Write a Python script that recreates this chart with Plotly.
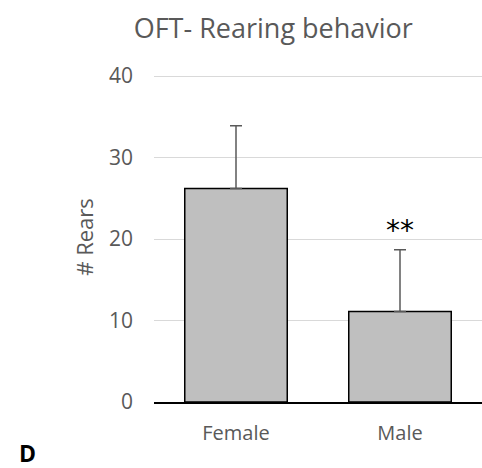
import plotly.graph_objects as go

categories = ["Female", "Male"]
means = [26.2, 11.1]
sem_plus = [7.7, 7.6]
sem_minus = [0, 0]
y_ticks = [0, 10, 20, 30, 40]
sig_labels = ["", "**"]

FONT = "Open Sans"
GRAY = "#595959"

fig = go.Figure()
fig.add_trace(go.Bar(
    x=categories, y=means,
    marker=dict(color="#bfbfbf", line=dict(color="black", width=1.5)),
    error_y=dict(type="data", symmetric=False, array=sem_plus, arrayminus=sem_minus,
                 color=GRAY, thickness=1.5, width=6),
    showlegend=False,
))

for cat, m, e, lab in zip(categories, means, sem_plus, sig_labels):
    if lab:
        fig.add_annotation(x=cat, y=m + e, text=lab, showarrow=False, yshift=19,
                           yanchor="middle",
                           font=dict(family="DejaVu Sans", size=28, color="black"))

fig.add_annotation(xref="paper", yref="paper", x=-0.418, y=-0.155, text="<b>D</b>",
                   showarrow=False, xanchor="left", yanchor="middle",
                   font=dict(family=FONT, size=23, color="black"))

fig.update_layout(
    width=482, height=468,
    margin=dict(l=154, r=0, t=72, b=66),
    plot_bgcolor="white", paper_bgcolor="white",
    bargap=0.375,
    title=dict(text="OFT- Rearing behavior", x=0.567, xanchor="center", y=0.94, yanchor="middle",
               font=dict(family=FONT, size=27, color=GRAY)),
    font=dict(family=FONT, color=GRAY),
)
fig.update_yaxes(range=[0, 40.5], tickvals=y_ticks, showgrid=True, gridcolor="#d9d9d9", gridwidth=1,
                 zeroline=False, showline=False, ticks="", ticklabelstandoff=20,
                 tickfont=dict(family=FONT, size=21, color=GRAY), automargin=False,
                 title=dict(text="# Rears", font=dict(family=FONT, size=22, color=GRAY), standoff=9))
fig.update_xaxes(showline=True, linecolor="black", linewidth=1.5, ticks="", automargin=False,
                 tickfont=dict(family=FONT, size=20, color=GRAY), ticklabelstandoff=12)

fig.write_html("out.html", post_script="document.body.style.margin='0';",
               config={"displayModeBar": False})
